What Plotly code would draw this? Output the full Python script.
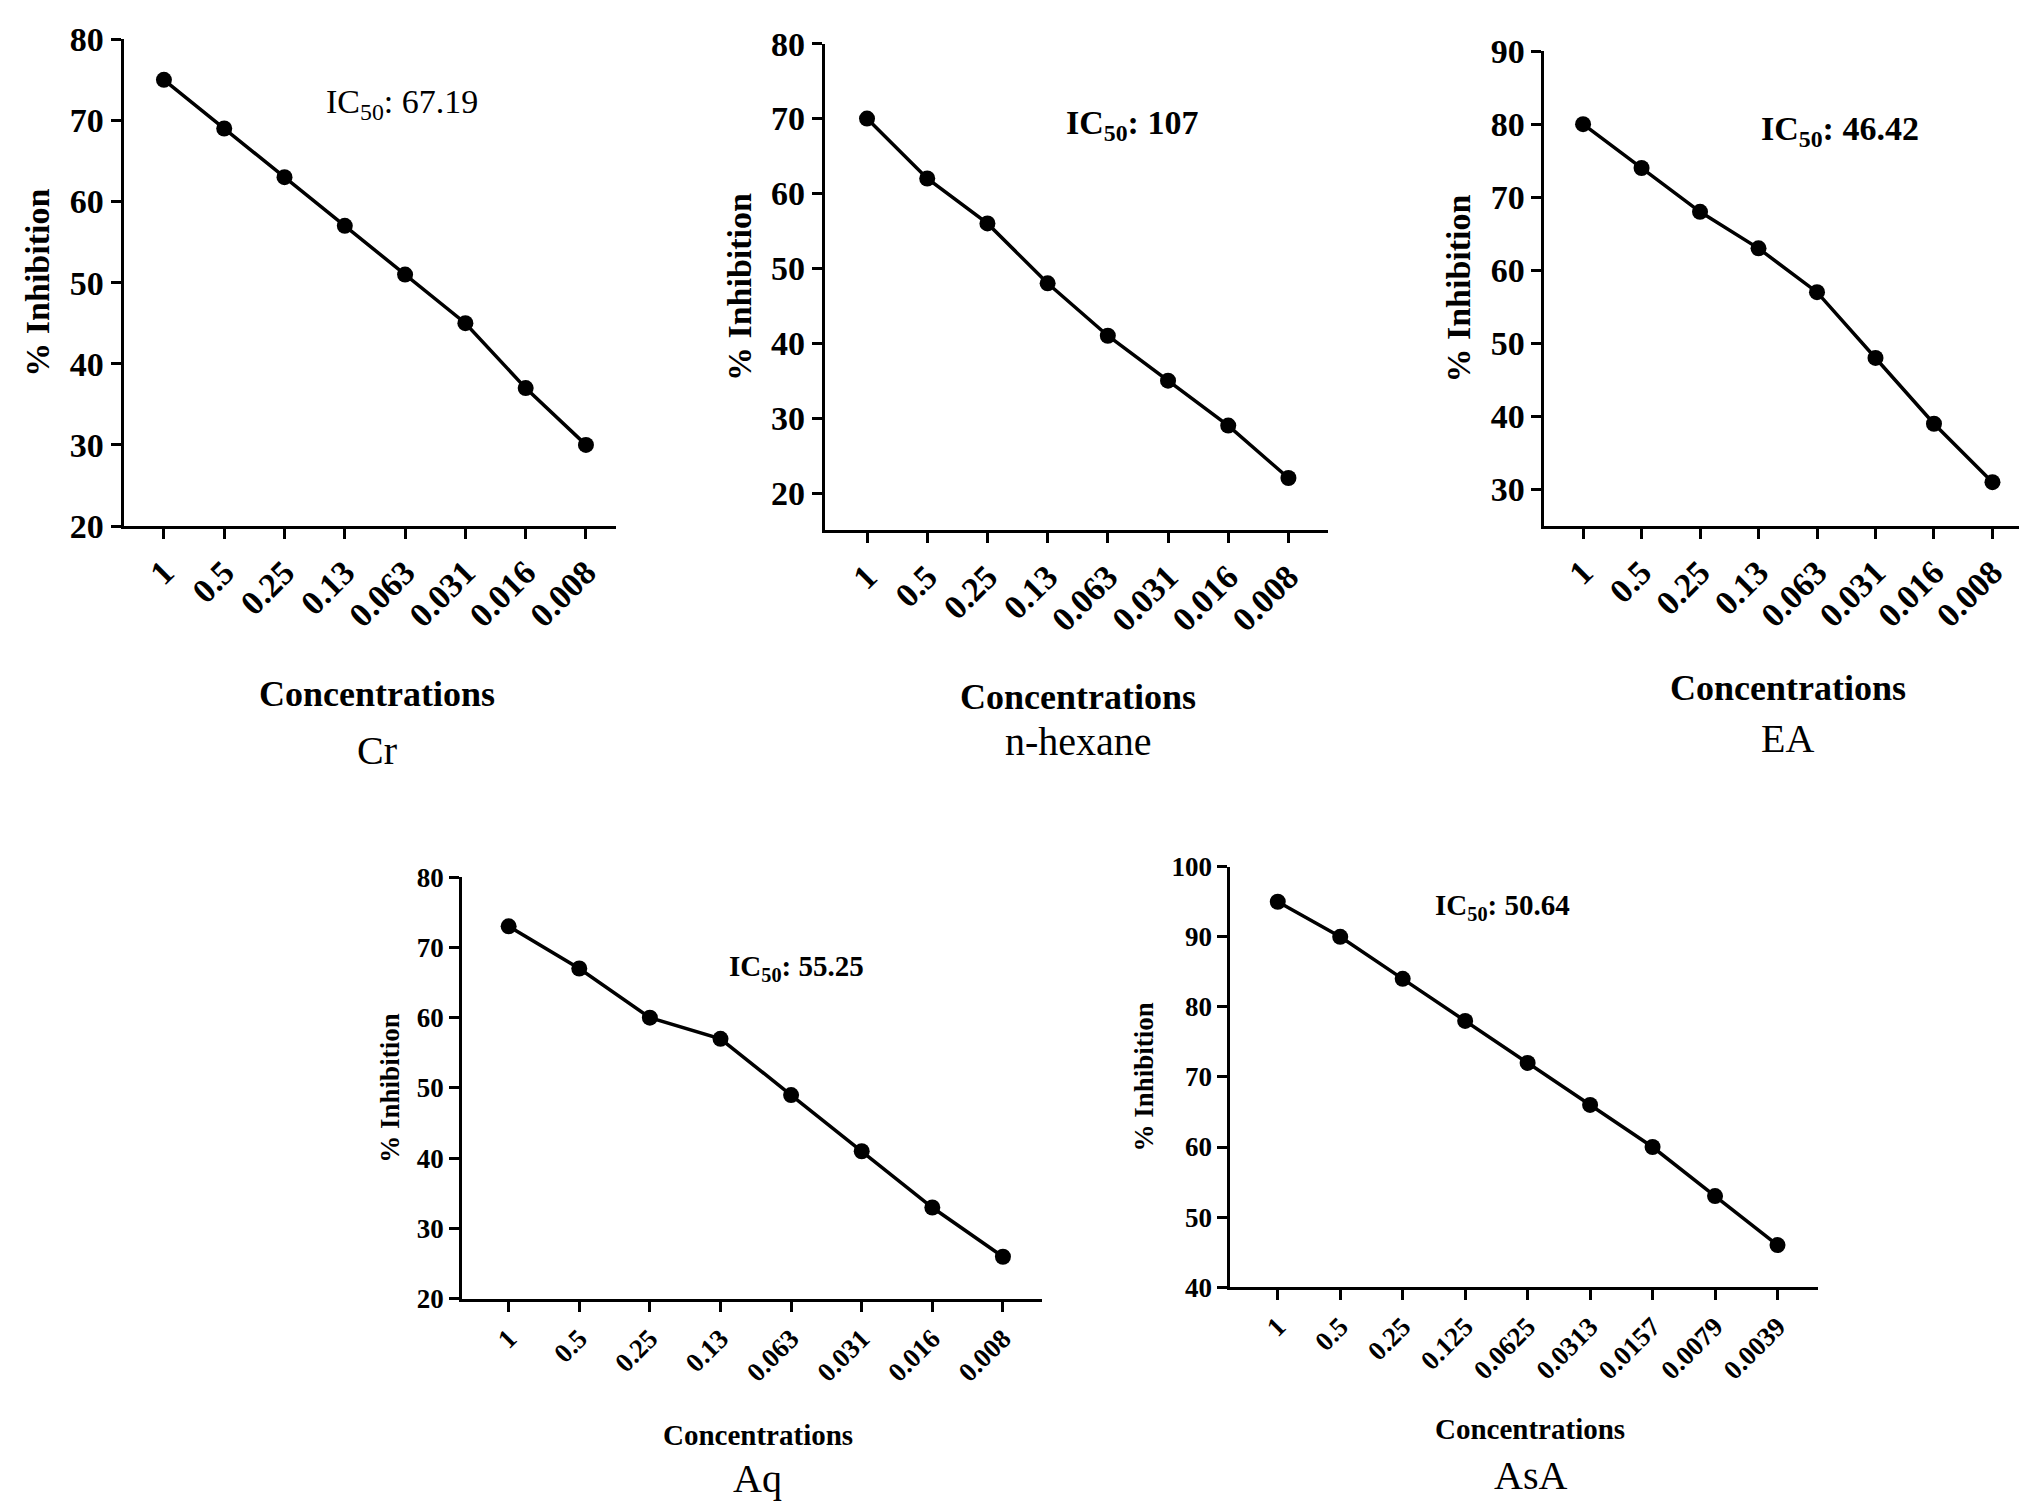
import plotly.graph_objects as go

conc8 = ["1", "0.5", "0.25", "0.13", "0.063", "0.031", "0.016", "0.008"]
conc9 = ["1", "0.5", "0.25", "0.125", "0.0625", "0.0313", "0.0157", "0.0079", "0.0039"]
cr = [75, 69, 63, 57, 51, 45, 37, 30]
hexane = [70, 62, 56, 48, 41, 35, 29, 22]
ea = [80, 74, 68, 63, 57, 48, 39, 31]
aq = [73, 67, 60, 57, 49, 41, 33, 26]
asa = [95, 90, 84, 78, 72, 66, 60, 53, 46]
names = ["Cr", "n-hexane", "EA", "Aq", "AsA"]
ic50 = ["67.19", "107", "46.42", "55.25", "50.64"]

F = "Liberation Serif"
panels = [
    dict(x=conc8, y=cr, xd=[0.057, 0.300], yd=[0.661, 0.991], yr=[20, 80], dt=10, fs=34, big=True,
         ann=(3.95, 72), bold=False, cx=0.182, ty=0.547, ny=0.509, xr=[-0.67, 7.5]),
    dict(x=conc8, y=hexane, xd=[0.403, 0.651], yd=[0.658, 0.988], yr=[15, 80], dt=10, fs=34, big=True,
         ann=(4.4, 69.2), bold=True, cx=0.528, ty=0.545, ny=0.515, xr=[-0.7, 7.65]),
    dict(x=conc8, y=ea, xd=[0.758, 0.992], yd=[0.661, 0.983], yr=[25, 90], dt=10, fs=34, big=True,
         ann=(4.4, 79), bold=True, cx=0.878, ty=0.551, ny=0.517, xr=[-0.66, 7.45]),
    dict(x=conc8, y=aq, xd=[0.224, 0.510], yd=[0.137, 0.423], yr=[20, 80], dt=10, fs=27, big=False,
         ann=(4.07, 67), bold=True, cx=0.370, ty=0.045, ny=0.015, xr=[-0.66, 7.55]),
    dict(x=conc9, y=asa, xd=[0.603, 0.893], yd=[0.145, 0.430], yr=[40, 100], dt=10, fs=27, big=False,
         ann=(3.6, 94.2), bold=True, cx=0.751, ty=0.049, ny=0.017, xr=[-0.76, 8.65]),
]

fig = go.Figure()
for i, p in enumerate(panels):
    s = "" if i == 0 else str(i + 1)
    fig.add_trace(go.Scatter(x=list(range(len(p["x"]))), y=p["y"], mode="lines+markers",
                             line=dict(color="black", width=3.5), marker=dict(color="black", size=16),
                             xaxis="x" + s, yaxis="y" + s, showlegend=False))
    fig.layout["xaxis" + s] = dict(domain=p["xd"], anchor="y" + s, range=p["xr"],
                                   tickmode="array", tickvals=list(range(len(p["x"]))), ticktext=p["x"],
                                   tickangle=-45, showline=True, linecolor="black", linewidth=3,
                                   ticks="outside", ticklen=10, tickwidth=3, tickcolor="black",
                                   showgrid=False, zeroline=False,
                                   tickfont=dict(family=F, size=p["fs"], color="black", weight="bold"))
    fig.layout["yaxis" + s] = dict(domain=p["yd"], anchor="x" + s, range=p["yr"], dtick=p["dt"],
                                   showline=True, linecolor="black", linewidth=3,
                                   ticks="outside", ticklen=10, tickwidth=3, tickcolor="black",
                                   showgrid=False, zeroline=False,
                                   tickfont=dict(family=F, size=p["fs"], color="black", weight="bold"),
                                   title=dict(text="% Inhibition", standoff=10,
                                              font=dict(family=F, size=p["fs"], color="black", weight="bold")))
    txt = "IC<sub>50</sub>: " + ic50[i]
    fig.add_annotation(x=p["ann"][0], y=p["ann"][1], xref="x" + s, yref="y" + s, text=txt, showarrow=False,
                       xanchor="center", yanchor="middle",
                       font=dict(family=F, size=p["fs"] if p["big"] else p["fs"] + 2, color="black",
                                 weight="bold" if p["bold"] else "normal"))
    fig.add_annotation(x=p["cx"], y=p["ty"], xref="paper", yref="paper", text="<b>Concentrations</b>",
                       showarrow=False, xanchor="center", yanchor="middle",
                       font=dict(family=F, size=p["fs"] + 2, color="black"))
    fig.add_annotation(x=p["cx"], y=p["ny"], xref="paper", yref="paper", text=names[i],
                       showarrow=False, xanchor="center", yanchor="middle",
                       font=dict(family=F, size=40, color="black"))

fig.update_layout(width=2027, height=1512, margin=dict(l=0, r=0, t=0, b=0),
                  plot_bgcolor="white", paper_bgcolor="white")
fig.write_html("out.html")
